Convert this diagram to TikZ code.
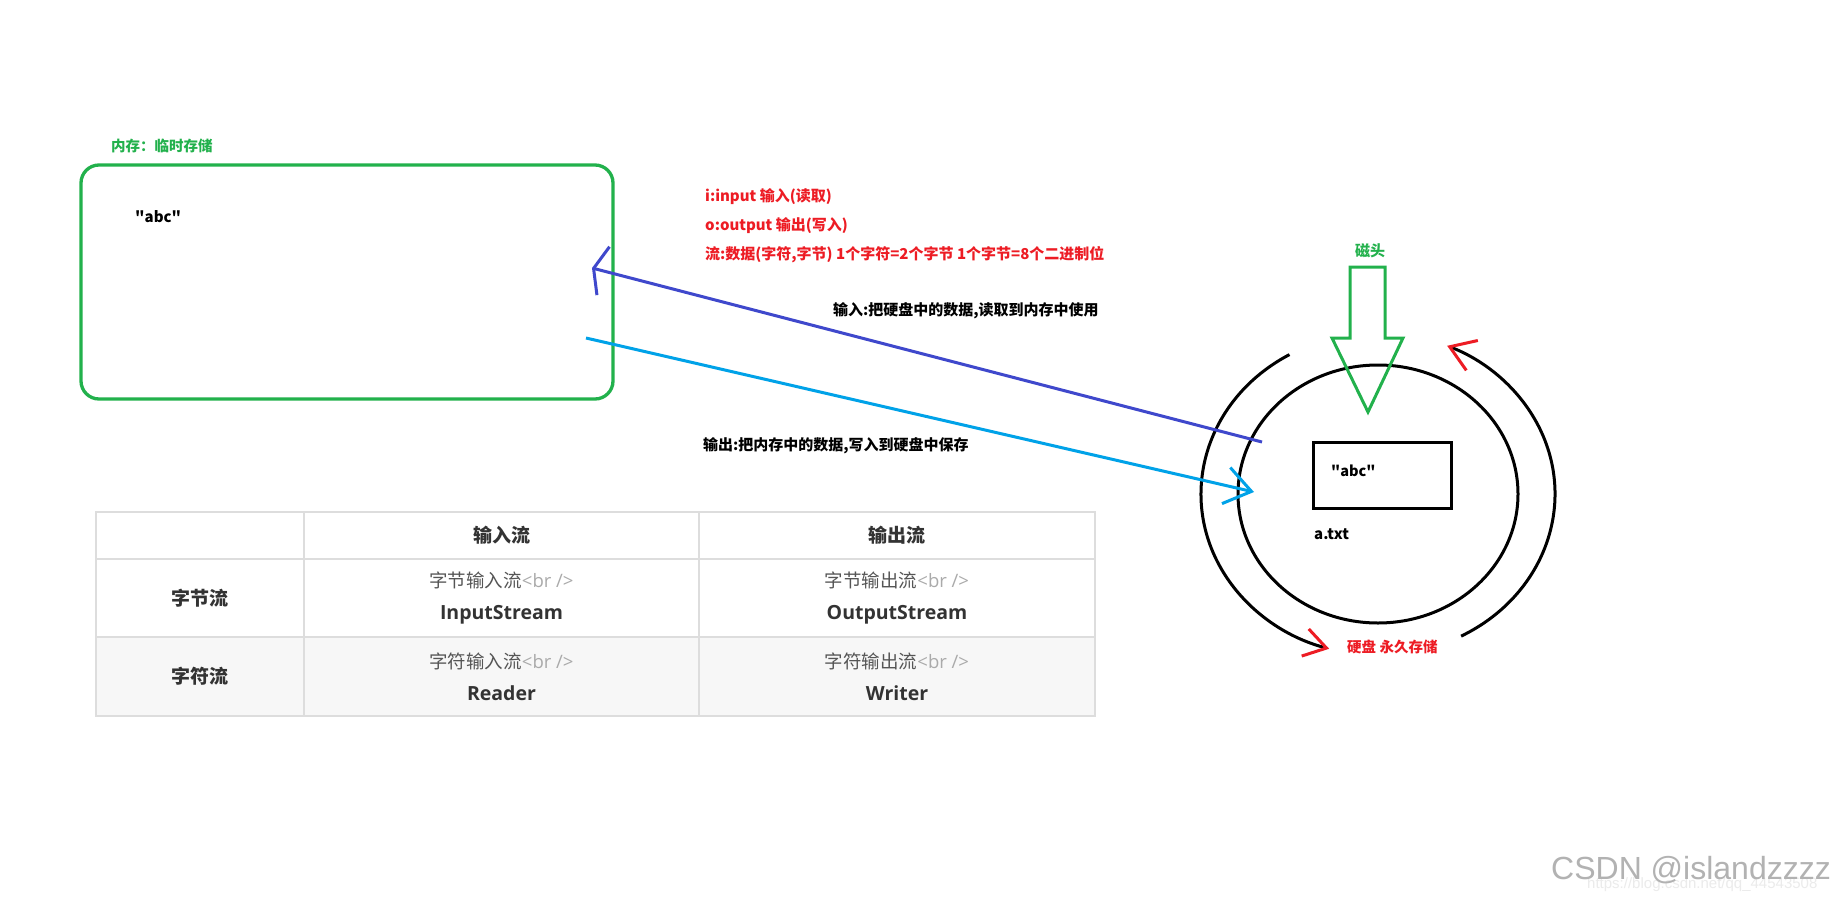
\documentclass[tikz,border=0pt]{standalone}
\usepackage{fontspec}
\setmainfont{Noto Sans CJK SC}
\newfontfamily\cjk{Noto Sans CJK SC}
\newfontfamily\osans{Open Sans}
\newfontfamily\wmark{Liberation Sans}
\usetikzlibrary{arrows.meta}
\usetikzlibrary{shapes.geometric}
\usetikzlibrary{calc}

\definecolor{paintgreen}{HTML}{22B14C}
\definecolor{paintblue}{HTML}{3F48CC}
\definecolor{paintcyan}{HTML}{00A2E8}
\definecolor{paintred}{HTML}{ED1C24}
\definecolor{tableline}{HTML}{DDDDDD}
\definecolor{rowgray}{HTML}{F7F7F7}
\definecolor{celltext}{HTML}{555555}
\definecolor{brtext}{HTML}{AAAAAA}
\definecolor{headtext}{HTML}{333333}

\tikzset{
  note/.style={anchor=west, inner sep=0pt, font=\cjk\bfseries\fontsize{15}{17}\selectfont},
  rednote/.style={note, text=paintred},
  cell/.style={draw=tableline, line width=1.5pt, inner sep=0pt, align=center,
    text=headtext, font=\cjk\fontsize{18.5}{32}\selectfont},
  headcell/.style={cell, font=\cjk\bfseries\fontsize{19}{22}\selectfont},
  ring/.style={line width=3pt},
}
\newcommand{\celltop}[1]{{\color{celltext}#1}{\osans\color{brtext}<br />}}
\newcommand{\cellname}[1]{{\osans\bfseries\fontsize{19.5}{32}\selectfont #1}}

\begin{document}
\begin{tikzpicture}[x=1pt,y=-1pt]
\useasboundingbox[fill=white] (0,0) rectangle (1840,902);
% memory
\node[note, text=paintgreen, font=\cjk\bfseries\fontsize{14.5}{16}\selectfont] (memlabel) at (111,146) {内存：临时存储};
\node[draw=paintgreen, line width=3.3pt, rounded corners=18pt,
  minimum width=532pt, minimum height=234pt] (mem) at (347,282) {};
\node[note, font=\cjk\bfseries\fontsize{15}{17}\selectfont] (memval) at (135,217) {"abc"};
%
\node[rednote] (ionote) at (705,197) {i:input 输入(读取)};
\node[rednote] (oonote) at (705,226) {o:output 输出(写入)};
\node[rednote] (flownote) at (705,255) {流:数据(字符,字节) 1个字符=2个字节 1个字节=8个二进制位};
\node[note] (innote) at (833,311) {输入:把硬盘中的数据,读取到内存中使用};
\node[note] (outnote) at (703,446) {输出:把内存中的数据,写入到硬盘中保存};
% disk
\coordinate (rim) at (1378,494);
\node[ellipse, draw, line width=3pt, minimum width=280pt, minimum height=258pt] (disk) at (1378,494) {};
\draw[ring, -{Straight Barb[color=paintred, length=22pt, width=28pt]}]
  ($(rim)+(240:177 and 161)$) arc[start angle=240, end angle=106, x radius=177, y radius=161];
\draw[ring, -{Straight Barb[color=paintred, length=24pt, width=32pt]}]
  ($(rim)+(62:177 and 161)$) arc[start angle=62, end angle=-67, x radius=177, y radius=161];
\node[draw, line width=3pt, minimum width=138pt, minimum height=66pt] (file) at (1382,475) {};
\node[note, font=\cjk\bfseries\fontsize{14.5}{16}\selectfont] (fileval) at (1331,471) {"abc"};
\node[note] (filename) at (1314,534) {a.txt};
\node[rednote, font=\cjk\bfseries\fontsize{14.5}{16}\selectfont] (disklabel) at (1347,647) {硬盘 永久存储};
%
\draw[paintgreen, line width=3pt] (1350,267) -- (1385,267) -- (1385,338) -- (1403,338)
  -- (1368,412) -- (1332,338) -- (1350,338) -- cycle;
\node[note, anchor=center, text=paintgreen] (headlabel) at (1370,251) {磁头};
% streams
\coordinate (inTail) at (1262,442);
\coordinate (inTip) at (592,268);
\coordinate (outTail) at (586,338);
\coordinate (outTip) at (1254,492);
\draw[paintblue, line width=3pt, -{Straight Barb[length=10pt, width=50pt]}] (inTail) -- (inTip);
\draw[paintcyan, line width=3pt, -{Straight Barb[length=26pt, width=37pt]}] (outTail) -- (outTip);
% table
\node[headcell, minimum width=208pt, minimum height=47pt] (corner) at (200,535.5) {};
\node[headcell, minimum width=395pt, minimum height=47pt] (hin) at (501.5,535.5) {输入流};
\node[headcell, minimum width=396pt, minimum height=47pt] (hout) at (897,535.5) {输出流};
%
\node[headcell, minimum width=208pt, minimum height=78pt] (bytes) at (200,598) {字节流};
\node[cell, minimum width=395pt, minimum height=78pt] (bytein) at (501.5,598) {\celltop{字节输入流}\\\cellname{InputStream}};
\node[cell, minimum width=396pt, minimum height=78pt] (byteout) at (897,598) {\celltop{字节输出流}\\\cellname{OutputStream}};
%
\node[headcell, fill=rowgray, minimum width=208pt, minimum height=79pt] (chars) at (200,676.5) {字符流};
\node[cell, fill=rowgray, minimum width=395pt, minimum height=79pt] (charin) at (501.5,676.5) {\celltop{字符输入流}\\\cellname{Reader}};
\node[cell, fill=rowgray, minimum width=396pt, minimum height=79pt] (charout) at (897,676.5) {\celltop{字符输出流}\\\cellname{Writer}};
% watermark
\node[anchor=west, inner sep=0pt, text=black!8, font=\wmark\fontsize{15}{17}\selectfont] (url) at (1587,885) {https://blog.csdn.net/qq\_44543508};
\node[anchor=west, inner sep=0pt, text=black!30, font=\wmark\fontsize{32}{35}\selectfont] (wmk) at (1551,870) {CSDN @islandzzzz};
\end{tikzpicture}
\end{document}
